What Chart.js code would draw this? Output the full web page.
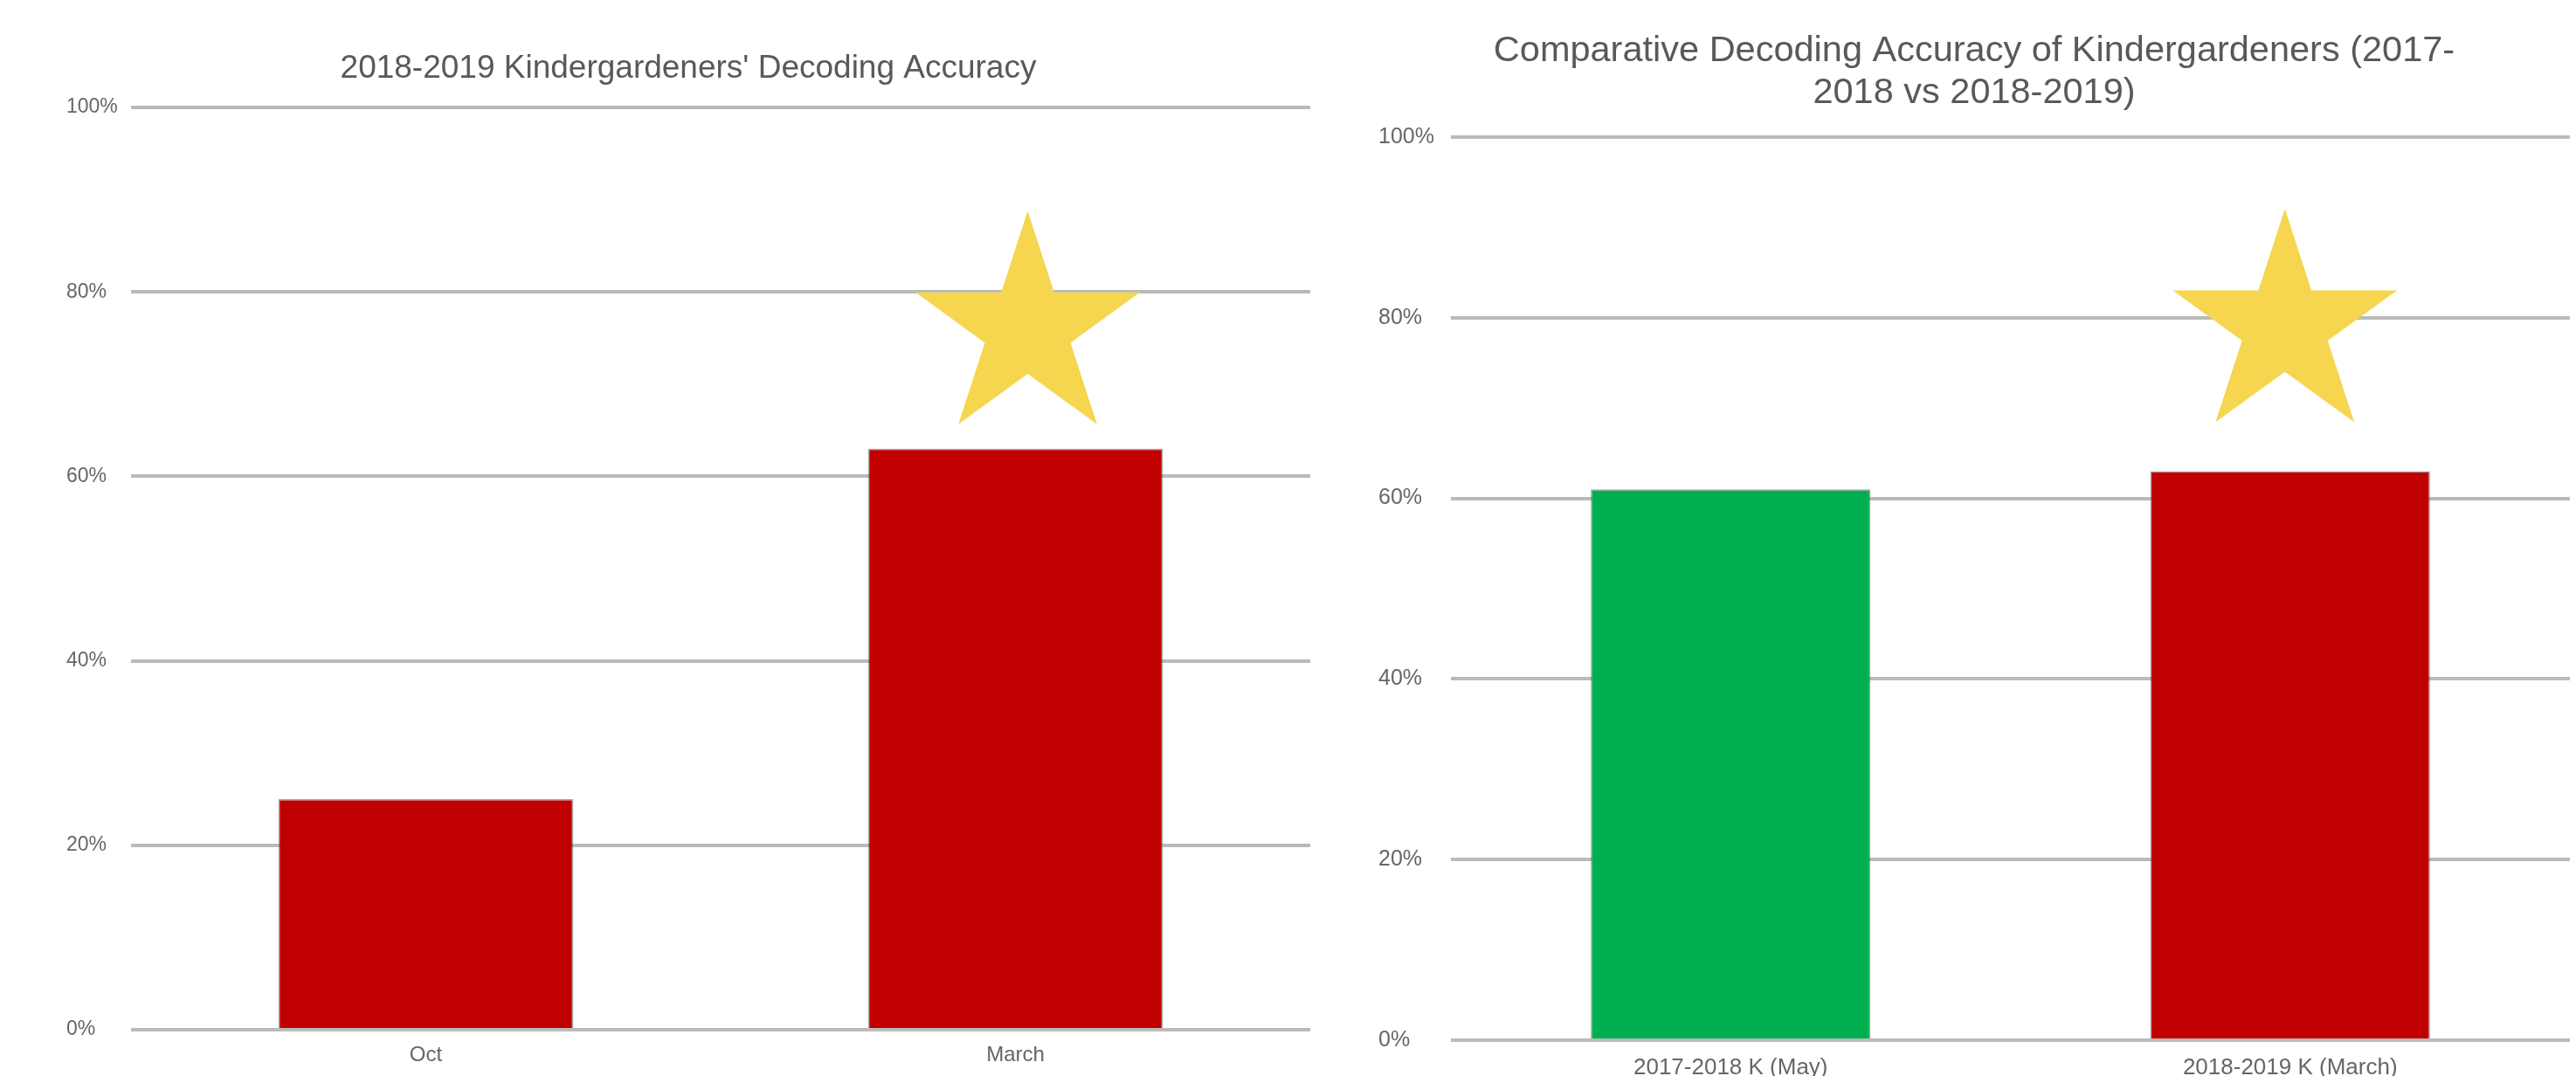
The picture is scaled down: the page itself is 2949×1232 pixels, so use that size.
<!DOCTYPE html>
<html>
<head>
<meta charset="utf-8">
<script src="https://cdn.jsdelivr.net/npm/chart.js@4"></script>
<style>
    html, body { margin: 0; padding: 0; background: #fff; }
    #wrap { position: relative; width: 2949px; height: 1232px; overflow: hidden; }
    #leftBox { position: absolute; left: 0; top: 0; }
    #rightBox { position: absolute; left: 1500px; top: 0; }
</style>
</head>
<body>
<div id="wrap">
    <div id="leftBox"><canvas id="leftChart" width="1500" height="1232"></canvas></div>
    <div id="rightBox"><canvas id="rightChart" width="1449" height="1232"></canvas></div>
</div>
<script>
// data
const leftTitle = "2018-2019 Kindergardeners' Decoding Accuracy";
const leftLabels = ['Oct', 'March'];
const leftValues = [25, 63];
const leftColors = ['#c00000', '#c00000'];
const leftStar = [1, 76];   // category index, value

const rightTitle = ['Comparative Decoding Accuracy of Kindergardeners (2017-', '2018 vs 2018-2019)'];
const rightLabels = ['2017-2018 K (May)', '2018-2019 K (March)'];
const rightValues = [61, 63];
const rightColors = ['#00b050', '#c00000'];
const rightStar = [1, 79];

const yTicks = [0, 20, 40, 60, 80, 100];

const FONT = "'Liberation Sans', Arial, sans-serif";
const GRID = '#bababa';

// draws a filled five point star over a bar, placed with the chart scales
const starPlugin = {
    id: 'starMark',
    afterDatasetsDraw(chart, args, opts) {
        const x = chart.scales.x.getPixelForValue(opts.index) + (opts.nudge || 0);
        const y = chart.scales.y.getPixelForValue(opts.value);
        const R = opts.radius, r = R * 0.382;
        const ctx = chart.ctx;
        ctx.save();
        ctx.beginPath();
        for (let k = 0; k < 10; k++) {
            const a = -Math.PI / 2 + k * Math.PI / 5;
            const rad = k % 2 === 0 ? R : r;
            const px = x + rad * Math.cos(a);
            const py = y + rad * Math.sin(a);
            if (k === 0) ctx.moveTo(px, py); else ctx.lineTo(px, py);
        }
        ctx.closePath();
        ctx.fillStyle = opts.color;
        ctx.fill();
        ctx.restore();
    }
};

function makeChart(id, cfg) {
    const ctx = document.getElementById(id).getContext('2d');
    return new Chart(ctx, {
        type: 'bar',
        data: {
            labels: cfg.labels,
            datasets: [{
                data: cfg.values,
                backgroundColor: cfg.colors,
                borderColor: 'rgba(90, 90, 90, 0.55)',
                borderWidth: 1.5,
                categoryPercentage: 1,
                barPercentage: 0.5
            }]
        },
        options: {
            responsive: false,
            animation: false,
            devicePixelRatio: 1,
            layout: { padding: { left: cfg.padLeft, right: cfg.padRight, top: 0, bottom: 0 } },
            plugins: {
                legend: { display: false },
                tooltip: { enabled: false },
                title: {
                    display: true,
                    text: cfg.title,
                    color: '#595959',
                    font: { family: FONT, size: cfg.titleSize, weight: 'normal', lineHeight: cfg.titleLine },
                    padding: { top: cfg.titleTop, bottom: cfg.titleBottom }
                },
                starMark: { index: cfg.star[0], value: cfg.star[1], nudge: cfg.starNudge, radius: 135, color: '#f6d54f' }
            },
            scales: {
                x: {
                    grid: { display: false, drawTicks: false },
                    border: { display: false },
                    ticks: {
                        color: '#666',
                        font: { family: FONT, size: cfg.xSize },
                        padding: cfg.xPad,
                        maxRotation: 0
                    },
                    afterFit: s => { s.height = cfg.xHeight; }
                },
                y: {
                    min: 0,
                    max: 100,
                    afterBuildTicks: s => { s.ticks = yTicks.map(v => ({ value: v })); },
                    grid: { color: GRID, lineWidth: 4, drawTicks: false },
                    border: { display: false },
                    ticks: {
                        color: '#666',
                        font: { family: FONT, size: cfg.ySize },
                        crossAlign: 'far',
                        padding: 0,
                        callback: v => v + '%'
                    },
                    afterFit: s => { s.width = cfg.yWidth; }
                }
            }
        },
        plugins: [starPlugin]
    });
}

makeChart('leftChart', {
    labels: leftLabels, values: leftValues, colors: leftColors, star: leftStar, starNudge: 14,
    title: leftTitle, titleSize: 37, titleLine: 1.2, titleTop: 57, titleBottom: 21.6,
    padLeft: 76, padRight: 0, yWidth: 74, ySize: 23,
    xSize: 24, xPad: 15, xHeight: 53
});

makeChart('rightChart', {
    labels: rightLabels, values: rightValues, colors: rightColors, star: rightStar, starNudge: -6,
    title: rightTitle, titleSize: 41.5, titleLine: 1.16, titleTop: 34, titleBottom: 26.7,
    padLeft: 78, padRight: 7, yWidth: 83, ySize: 25,
    xSize: 26, xPad: 16, xHeight: 41
});
</script>
</body>
</html>
